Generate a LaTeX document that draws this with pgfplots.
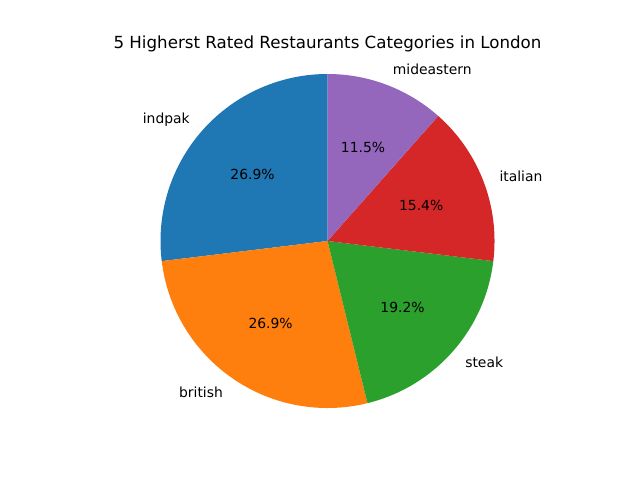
\documentclass[border=0pt]{standalone}
\usepackage{pgfplots}
\pgfplotsset{compat=1.18}
\usepackage{pgfplotstable}
\usepackage{fontspec}
\setmainfont{DejaVu Sans}
\definecolor{c0}{HTML}{1F77B4}
\definecolor{c1}{HTML}{FF7F0E}
\definecolor{c2}{HTML}{2CA02C}
\definecolor{c3}{HTML}{D62728}
\definecolor{c4}{HTML}{9467BD}

\pgfplotstableread{
label count
indpak 7
british 7
steak 5
italian 4
mideastern 3
}\pietable

\newcommand\R{120.24pt}
\newcommand\drawslice[2]{%
  \fill[#2] (axis cs:0,0) -- (axis cs:{cos(\csname sA#1\endcsname)},{sin(\csname sA#1\endcsname)})
    arc[start angle=\csname sA#1\endcsname, end angle=\csname sB#1\endcsname, radius=\R] -- cycle;
}
\newcommand\labelslice[1]{%
  \node[anchor=\csname anc#1\endcsname, inner sep=0pt, font=\fontsize{10}{12}\selectfont]
    at (axis cs:{1.1*cos(\csname sM#1\endcsname)},{1.1*sin(\csname sM#1\endcsname)}) {\csname lab#1\endcsname};
  \node[anchor=center, inner sep=0pt, font=\fontsize{10}{12}\selectfont]
    at (axis cs:{0.6*cos(\csname sM#1\endcsname)},{0.6*sin(\csname sM#1\endcsname)})
    {\pgfmathprintnumber[fixed,fixed zerofill,precision=1,assume math mode=true]{\csname pct#1\endcsname}\%};
}

\begin{document}
\begin{tikzpicture}
\pgfplotstablegetrowsof{\pietable}
\pgfmathtruncatemacro\lastrow{\pgfplotsretval-1}
\gdef\total{0}
\foreach \i in {0,...,\lastrow}{%
  \pgfplotstablegetelem{\i}{count}\of\pietable
  \pgfmathsetmacro\t{\total+\pgfplotsretval}%
  \xdef\total{\t}}
\gdef\cum{90}
\foreach \i in {0,...,\lastrow}{%
  \pgfplotstablegetelem{\i}{count}\of\pietable
  \pgfmathsetmacro\v{\pgfplotsretval}%
  \pgfmathsetmacro\a{\cum}%
  \pgfmathsetmacro\b{\cum+360*\v/\total}%
  \pgfmathsetmacro\m{(\a+\b)/2}%
  \pgfmathsetmacro\p{100*\v/\total}%
  \pgfmathsetmacro\cx{cos(\m)}%
  \ifdim\cx pt>0pt \gdef\anc{west}\else\gdef\anc{east}\fi
  \pgfplotstablegetelem{\i}{label}\of\pietable
  \expandafter\xdef\csname sA\i\endcsname{\a}%
  \expandafter\xdef\csname sB\i\endcsname{\b}%
  \expandafter\xdef\csname sM\i\endcsname{\m}%
  \expandafter\xdef\csname pct\i\endcsname{\p}%
  \expandafter\xdef\csname anc\i\endcsname{\anc}%
  \expandafter\xdef\csname lab\i\endcsname{\pgfplotsretval}%
  \xdef\cum{\b}}
\begin{axis}[
  x=120.24pt, y=120.24pt,
  xmin=-1.961, xmax=1.871, ymin=-1.431, ymax=1.443,
  hide axis, clip=false, scale only axis,
]
\path (axis cs:-1.961,-1.431) rectangle (axis cs:1.871,1.443);
\drawslice{0}{c0}
\drawslice{1}{c1}
\drawslice{2}{c2}
\drawslice{3}{c3}
\drawslice{4}{c4}
\labelslice{0}
\labelslice{1}
\labelslice{2}
\labelslice{3}
\labelslice{4}
\node[anchor=base, inner sep=0pt, font=\fontsize{12}{14}\selectfont] at (axis cs:0,1.150)
  {5 Higherst Rated Restaurants Categories in London};
\end{axis}
\end{tikzpicture}
\end{document}
